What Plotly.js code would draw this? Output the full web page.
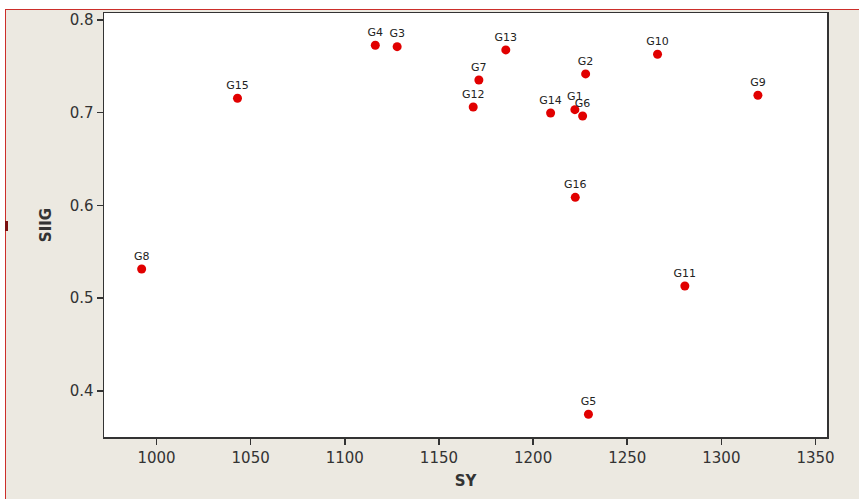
<!DOCTYPE html>
<html>
<head>
<meta charset="utf-8">
<script src="https://cdn.plot.ly/plotly-3.0.1.min.js"></script>
<style>
html, body { margin:0; padding:0; background:#ffffff; width:859px; height:499px; overflow:hidden; }
#chart { position:absolute; left:5px; top:9px; width:853px; height:489px;
  border-top:1px solid #cc2e2a; border-left:1px solid #cc2e2a; }
#mark { position:absolute; left:5px; top:221px; width:3px; height:10px; background:#7a1010; }
</style>
</head>
<body>
<div id="chart"></div>
<div id="mark"></div>
<script>
const labels = ["G1","G2","G3","G4","G5","G6","G7","G8","G9","G10","G11","G12","G13","G14","G15","G16"];
const sy     = [1222.2,1227.9,1127.8,1116.2,1229.4,1226.3,1171.2,992.1,1319.4,1266.1,1280.6,1168.2,1185.5,1209.3,1043.0,1222.4];
const siig   = [0.7033,0.7418,0.7712,0.7727,0.3749,0.6965,0.7353,0.5315,0.7188,0.7630,0.5132,0.7062,0.7677,0.6997,0.7156,0.6088];
const xTicks = [1000,1050,1100,1150,1200,1250,1300,1350];
const yTicks = [0.4,0.5,0.6,0.7,0.8];

const trace = {
  x: sy, y: siig, text: labels,
  type: 'scatter', mode: 'markers+text',
  textposition: 'top center',
  textfont: {family: 'DejaVu Sans', size: 11, color: '#222'},
  marker: {color: 'rgb(225,0,0)', size: 9},
  cliponaxis: false,
  hoverinfo: 'x+y+text'
};

const axisCommon = {
  showgrid: false, zeroline: false,
  showline: true, mirror: true, linecolor: '#333', linewidth: 1.5,
  ticks: 'outside', ticklen: 6, tickcolor: '#333', tickwidth: 1.5,
  tickfont: {family: 'DejaVu Sans', size: 15, color: '#333'}
};

const layout = {
  width: 853, height: 489,
  margin: {l: 98, r: 32, t: 3, b: 62},
  paper_bgcolor: '#ece9e1',
  plot_bgcolor: '#ffffff',
  showlegend: false,
  xaxis: Object.assign({}, axisCommon, {
    range: [972.1, 1356.1],
    tickvals: xTicks, ticktext: xTicks.map(String),
    title: {text: '<b>SY</b>', font: {family: 'DejaVu Sans', size: 15, color: '#333'}, standoff: 10}
  }),
  yaxis: Object.assign({}, axisCommon, {
    range: [0.3504, 0.8075],
    tickvals: yTicks, ticktext: yTicks.map(v => v.toFixed(1)),
    title: {text: '<b>SIIG</b>', font: {family: 'DejaVu Sans', size: 15, color: '#333'}, standoff: 14}
  })
};

Plotly.newPlot('chart', [trace], layout, {displayModeBar: false, staticPlot: true});
</script>
</body>
</html>
